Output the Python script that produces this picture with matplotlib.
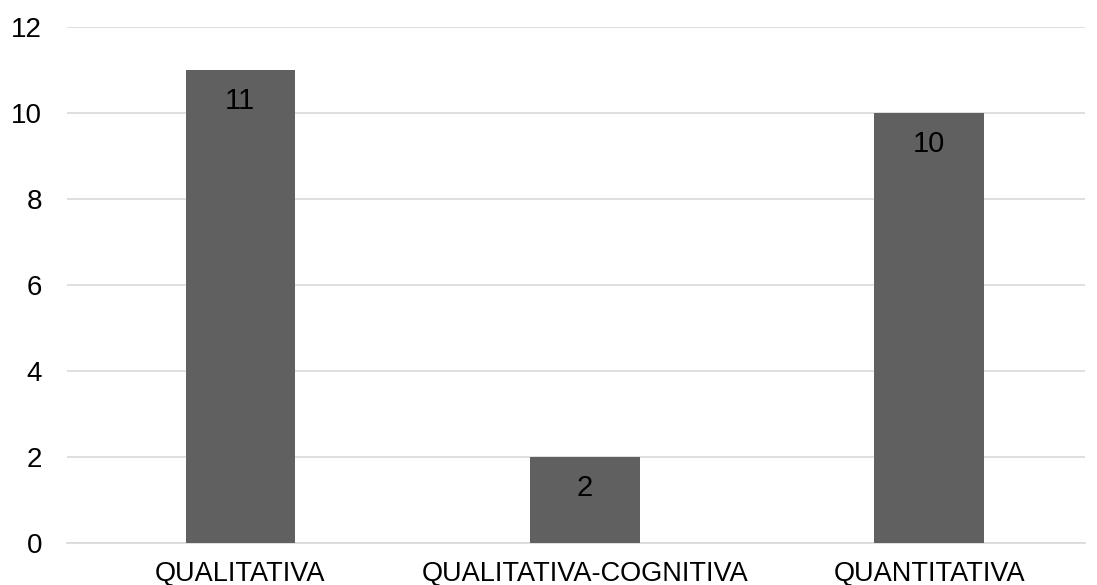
import matplotlib
matplotlib.use("Agg")
import matplotlib.pyplot as plt

categories = ["QUALITATIVA", "QUALITATIVA-COGNITIVA", "QUANTITATIVA"]
values = [11, 2, 10]
yticks = [0, 2, 4, 6, 8, 10, 12]

plt.rcParams['font.family'] = ['Liberation Sans', 'DejaVu Sans']

fig = plt.figure(figsize=(10.97, 5.85), dpi=100)
ax = fig.add_axes([0.0611, 0.0718, 0.9279, 0.8822])

x = range(len(categories))
bars = ax.bar(x, values, width=0.318, color="#606060", zorder=3)

for b, v in zip(bars, values):
    ax.annotate(str(v), (b.get_x() + b.get_width() / 2, v),
                xytext=(0, -22.5), textcoords="offset points",
                ha="center", va="center", fontsize=21, color="#000000")

ax.set_xlim(-0.503, 2.452)
ax.set_ylim(0, 12)
ax.set_yticks(yticks)
ax.set_xticks(list(x))
ax.set_xticklabels(categories)
ax.grid(axis="y", color="#d9d9d9", linewidth=1.2, zorder=0)
for s in ["top", "right", "left"]:
    ax.spines[s].set_visible(False)
ax.spines["bottom"].set_color("#d9d9d9")
ax.spines["bottom"].set_linewidth(1.2)
ax.tick_params(axis="both", length=0, colors="#000000")
ax.tick_params(axis="y", pad=18, labelsize=20)
ax.tick_params(axis="x", pad=13, labelsize=19.5)

fig.savefig("out.png", dpi=100)
